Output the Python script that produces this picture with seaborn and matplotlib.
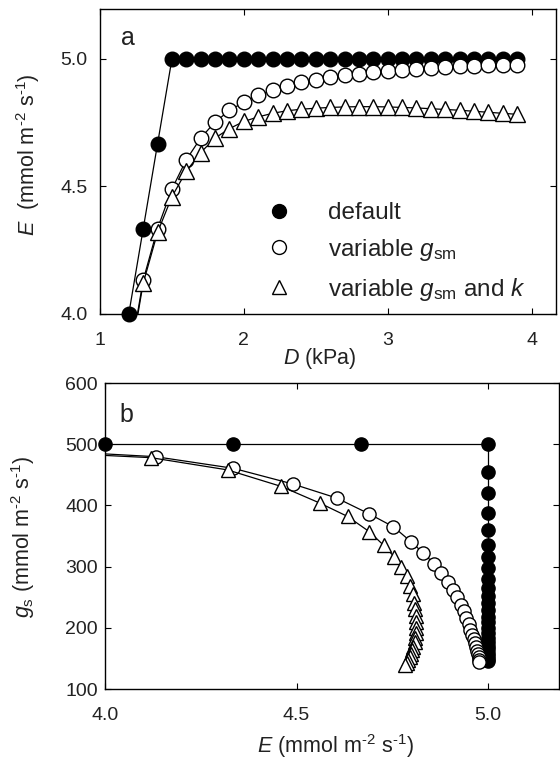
import matplotlib
matplotlib.use("Agg")
import matplotlib.pyplot as plt
from matplotlib.lines import Line2D
import seaborn as sns

# vapour pressure deficit (kPa)
D = [1.2, 1.3, 1.4, 1.5, 1.6, 1.7, 1.8, 1.9, 2.0, 2.1,
     2.2, 2.3, 2.4, 2.5, 2.6, 2.7, 2.8, 2.9, 3.0, 3.1,
     3.2, 3.3, 3.4, 3.5, 3.6, 3.7, 3.8, 3.9]

# transpiration E (mmol m-2 s-1)
E_default = [4.0, 4.333, 4.667, 5.0, 5.0, 5.0, 5.0, 5.0, 5.0, 5.0,
             5.0, 5.0, 5.0, 5.0, 5.0, 5.0, 5.0, 5.0, 5.0, 5.0,
             5.0, 5.0, 5.0, 5.0, 5.0, 5.0, 5.0, 5.0]
E_gsm = [3.80, 4.132, 4.335, 4.49, 4.605, 4.69, 4.753, 4.798, 4.831, 4.858,
         4.878, 4.895, 4.908, 4.919, 4.928, 4.936, 4.943, 4.949, 4.954, 4.958,
         4.962, 4.965, 4.968, 4.971, 4.973, 4.975, 4.976, 4.977]
E_gsm_k = [3.79, 4.12, 4.32, 4.46, 4.56, 4.633, 4.69, 4.727, 4.755, 4.773,
           4.787, 4.797, 4.803, 4.807, 4.81, 4.812, 4.813, 4.813, 4.812, 4.81,
           4.808, 4.805, 4.802, 4.799, 4.795, 4.791, 4.787, 4.783]

# stomatal conductance gs (mmol m-2 s-1)
gs_default = [500, 500, 500, 500, 455, 420, 388, 360, 336, 315,
              297, 280, 265, 252, 240, 229, 218, 209, 200, 192,
              184, 177, 171, 165, 159, 154, 149, 145]
gs_gsm = [491, 479.6, 460.6, 435, 412, 386, 365, 341, 322, 305,
          289, 275, 262, 250, 238, 227, 216, 206, 197, 189,
          181, 175, 168, 162, 157, 152, 148, 144.6]
gs_gsm_k = [488, 478, 458, 431, 404, 382, 357, 335, 316, 300,
            284, 268, 255, 241, 230, 219, 209, 200, 191, 183,
            176, 169, 163, 157, 152, 147, 143, 139]

labels = ['default', 'variable $g_{\\mathrm{sm}}$', 'variable $g_{\\mathrm{sm}}$ and $k$']
unit = '(mmol m$^{\\text{-2}}$ s$^{\\text{-1}}$)'

sns.set_style('ticks')
plt.rcParams['font.family'] = ['Liberation Sans', 'DejaVu Sans']
plt.rcParams['mathtext.fontset'] = 'custom'
plt.rcParams['mathtext.rm'] = 'Liberation Sans'
plt.rcParams['mathtext.it'] = 'Liberation Sans:italic'
plt.rcParams['mathtext.bf'] = 'Liberation Sans:bold'

fig = plt.figure(figsize=(5.6, 7.63), dpi=100)
fig.patch.set_facecolor('white')
ax1 = fig.add_axes([100/560, 1-314/763, 456/560, 305/763])
ax2 = fig.add_axes([105/560, 1-689/763, 454/560, 306/763])

styles = [dict(marker='o', markerfacecolor='black', clip_on=False),
          dict(marker='o', markerfacecolor='white'),
          dict(marker='^', markerfacecolor='white')]

series_a = [E_default, E_gsm, E_gsm_k]
series_b = [(E_default, gs_default), (E_gsm, gs_gsm), (E_gsm_k, gs_gsm_k)]

for E, st in zip(series_a, styles):
    ms = 11 if st['marker'] == '^' else 10.5
    sns.lineplot(x=D, y=E, ax=ax1, estimator=None, sort=False, legend=False,
                 color='black', linewidth=0.9, markersize=ms,
                 markeredgecolor='black', markeredgewidth=1.0, **st)

for (E, g), st in zip(series_b, styles):
    ms = 10 if st['marker'] == '^' else 9.5
    sns.lineplot(x=E, y=g, ax=ax2, estimator=None, sort=False, legend=False,
                 color='black', linewidth=0.9, markersize=ms,
                 markeredgecolor='black', markeredgewidth=1.0, **st)

# panel a
ax1.set_xlim(1, 4.17)
ax1.set_ylim(4.0, 5.196)
ax1.set_xticks([1, 2, 3, 4])
ax1.set_yticks([4.0, 4.5, 5.0])
ax1.set_yticklabels(['4.0', '4.5', '5.0'])
ax1.tick_params(axis='both', direction='in', top=True, right=True, length=4,
                width=0.8, labelsize=14, color='black', labelcolor='#222222')
ax1.tick_params(axis='x', pad=13)
ax1.tick_params(axis='y', pad=9)
ax1.set_xlabel('$D$ (kPa)', fontsize=15.5, color='#222222')
ax1.xaxis.set_label_coords(0.482, -0.106)
ax1.set_ylabel('$E$  ' + unit, fontsize=15.5, color='#222222')
ax1.yaxis.set_label_coords(-0.127, 0.521)
ax1.text(0.061, 0.882, 'a', transform=ax1.transAxes, fontsize=18,
         ha='center', va='baseline', color='#222222')

handles = [Line2D([], [], linestyle='none', marker=st['marker'], markersize=10,
                  markerfacecolor=st['markerfacecolor'], markeredgecolor='black',
                  markeredgewidth=1.0) for st in styles]
ax1.legend(handles, labels, loc='center left', bbox_to_anchor=(0.366, 0.202),
           frameon=False, fontsize=17.5, handlelength=1.0, handletextpad=1.5,
           borderpad=0, borderaxespad=0, labelspacing=0.52, labelcolor='#222222')

# panel b
ax2.set_xlim(4.0, 5.185)
ax2.set_ylim(100, 600)
ax2.set_xticks([4.0, 4.5, 5.0])
ax2.set_xticklabels(['4.0', '4.5', '5.0'])
ax2.set_yticks([100, 200, 300, 400, 500, 600])
ax2.tick_params(axis='both', direction='in', top=True, right=True, length=4,
                width=0.8, labelsize=14, color='black', labelcolor='#222222')
ax2.tick_params(axis='x', pad=13)
ax2.tick_params(axis='y', pad=5)
ax2.set_xlabel('$E$ ' + unit, fontsize=15.5, color='#222222')
ax2.xaxis.set_label_coords(0.507, -0.142)
ax2.set_ylabel('$g_{\\mathrm{s}}$ ' + unit, fontsize=15.5, color='#222222')
ax2.yaxis.set_label_coords(-0.150, 0.497)
ax2.text(0.048, 0.873, 'b', transform=ax2.transAxes, fontsize=18,
         ha='center', va='baseline', color='#222222')

for ax in (ax1, ax2):
    for sp in ax.spines.values():
        sp.set_visible(True)
        sp.set_color('black')
        sp.set_linewidth(1.0)

fig.savefig('out.png', dpi=100, facecolor='white')
